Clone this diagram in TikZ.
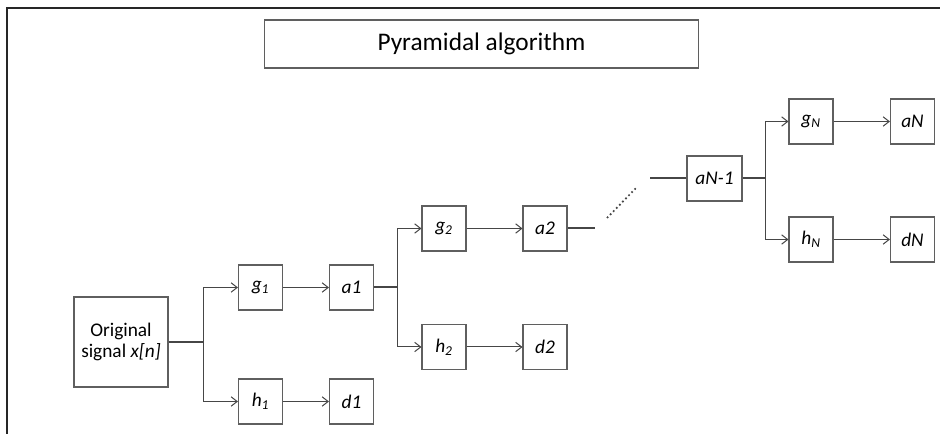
\documentclass[tikz,border=0pt]{standalone}
\usepackage{fontspec}
\setmainfont{Carlito}
\usepackage{tikz}
\usetikzlibrary{
	arrows.meta,
	calc,
	positioning
}
\definecolor{LineGray}{RGB}{70,70,70}
\definecolor{BoxGray}{RGB}{95,95,95}

\begin{document}
\begin{tikzpicture}[x=0.75pt, y=-0.75pt,
		blockbox/.style={draw=BoxGray, line width=0.8pt, minimum width=33pt, minimum height=33.75pt,
			inner sep=0pt, font=\fontsize{14.5}{17}\selectfont\itshape},
		flow/.style={draw=LineGray, line width=0.75pt, -{Straight Barb[length=4.5pt, width=7pt]}},
		trunk/.style={draw=LineGray, line width=1.5pt}]
		\useasboundingbox (0,0) rectangle (940,434);
		% frame
		\draw[line width=1.5pt, black!85] (7,434) -- (7,8) -- (940,8);
		% title
		\node[draw=BoxGray, line width=0.8pt, minimum width=326pt, minimum height=36pt,
			font=\fontsize{19}{23}\selectfont] (title) at (481.5,44) {Pyramidal algorithm};
		% input
		\node[draw=BoxGray, line width=0.8pt, minimum width=70.5pt, minimum height=67.5pt,
			align=center, font=\fontsize{14.5}{16}\selectfont] (orig) at (121,342)
			{Original\\signal \textit{x[n]}};
		% level 1
		\node[blockbox] (g1) at (260.5,287.5) {g\textsubscript{1}};
		\node[blockbox] (a1) at (351.5,287.5) {a1};
		\node[blockbox] (h1) at (260.5,401.5) {h\textsubscript{1}};
		\node[blockbox] (d1) at (351.5,401.5) {d1};
		% level 2
		\node[blockbox] (g2) at (444,228.5) {g\textsubscript{2}};
		\node[blockbox] (a2) at (545,228.5) {a2};
		\node[blockbox] (h2) at (444,347) {h\textsubscript{2}};
		\node[blockbox] (d2) at (545,347) {d2};
		% level N
		\node[blockbox, minimum width=41.25pt] (aN1) at (714.5,178.5) {aN-1};
		\node[blockbox] (gN) at (811,121.5) {g\textsubscript{N}};
		\node[blockbox] (aN) at (912.5,121.5) {aN};
		\node[blockbox] (hN) at (811,239.5) {h\textsubscript{N}};
		\node[blockbox] (dN) at (912.5,239.5) {dN};
		% split points
		\coordinate (s1) at (203,342);
		\coordinate (s2) at (397,287.5);
		\coordinate (s3) at (765,178.5);
		\coordinate (a2out) at (595,228.5);
		\coordinate (aNin) at (650,178.5);
		\coordinate (dotA) at (607,218);
		\coordinate (dotB) at (636,188);
		\draw[trunk] (orig.east) -- (s1);
		\draw[flow] (s1) |- (g1.west);
		\draw[flow] (s1) |- (h1.west);
		\draw[flow] (g1) -- (a1);
		\draw[flow] (h1) -- (d1);
		\draw[trunk] (a1.east) -- (s2);
		\draw[flow] (s2) |- (g2.west);
		\draw[flow] (s2) |- (h2.west);
		\draw[flow] (g2) -- (a2);
		\draw[flow] (h2) -- (d2);
		\draw[trunk] (a2.east) -- (a2out);
		\draw[line width=1.3pt, LineGray, dotted] (dotA) -- (dotB);
		\draw[trunk] (aNin) -- (aN1.west);
		\draw[trunk] (aN1.east) -- (s3);
		\draw[flow] (s3) |- (gN.west);
		\draw[flow] (s3) |- (hN.west);
		\draw[flow] (gN) -- (aN);
		\draw[flow] (hN) -- (dN);
	\end{tikzpicture}
\end{document}
